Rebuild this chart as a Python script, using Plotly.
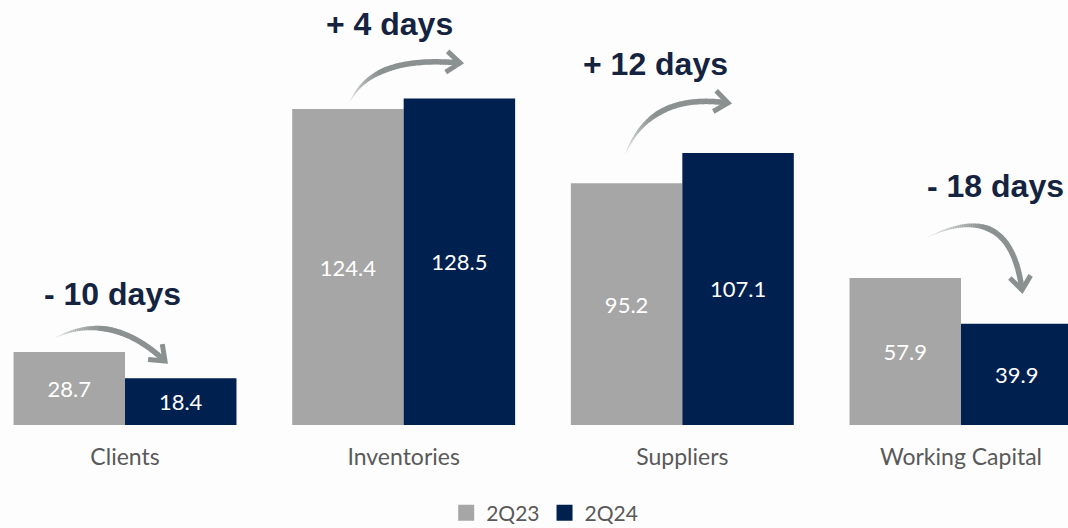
import numpy as np
import plotly.graph_objects as go

# --- data ---
categories = ["Clients", "Inventories", "Suppliers", "Working Capital"]
days_2q23 = [28.7, 124.4, 95.2, 57.9]
days_2q24 = [18.4, 128.5, 107.1, 39.9]
change_labels = ["- 10 days", "+ 4 days", "+ 12 days", "- 18 days"]

W, H = 1068, 528
MB = 103                      # bottom margin (axis labels + legend)
PLOT_H = H - MB

GRAY = "#a6a6a6"
NAVY = "#002050"
ARROW = "#8b9090"
TITLE = "#14233f"
LABEL = "#595959"


def to_paper(px, py):
    return px / W, 1 - py / PLOT_H


fig = go.Figure()
for name, vals, col in (("2Q23", days_2q23, GRAY), ("2Q24", days_2q24, NAVY)):
    fig.add_trace(go.Bar(
        name=name, x=categories, y=vals, marker_color=col, marker_line_width=0,
        texttemplate="%{y:.1f}", textposition="inside", insidetextanchor="middle",
        textangle=0, textfont=dict(color="white", size=22, family="Lato"),
        showlegend=False,
    ))
# legend entries with larger square swatches
for name, col in (("2Q23", GRAY), ("2Q24", NAVY)):
    fig.add_trace(go.Scatter(
        name=name, x=[None], y=[None], mode="markers",
        marker=dict(symbol="square", size=16, color=col), showlegend=True,
    ))


# --- curved brush-like arrows between the two bars of each group ---
def bezier(p0, c, p1, t):
    t = t[:, None]
    return (1 - t) ** 2 * np.array(p0) + 2 * (1 - t) * t * np.array(c) + t ** 2 * np.array(p1)


def add_arrow(p0, c, p1, width=5.5, head=17):
    n = 60
    t = np.linspace(0, 1, n + 1)
    pts = bezier(p0, c, p1, t)
    d = np.gradient(pts, axis=0)
    d /= np.linalg.norm(d, axis=1)[:, None]
    nrm = np.stack([-d[:, 1], d[:, 0]], axis=1)
    w = 0.4 + (width - 0.4) * np.clip(t / 0.45, 0, 1)
    op = 0.15 + 0.85 * np.clip(t / 0.4, 0, 1)
    for i in range(n):
        a, b = pts[i], pts[i + 1] + d[i + 1] * 0.6
        wa, wb = w[i] / 2, w[i + 1] / 2
        quad = [a + nrm[i] * wa, b + nrm[i + 1] * wb, b - nrm[i + 1] * wb, a - nrm[i] * wa]
        path = "M " + " L ".join("%.5f,%.5f" % to_paper(*q) for q in quad) + " Z"
        fig.add_shape(type="path", path=path, xref="paper", yref="paper",
                      fillcolor=ARROW, opacity=float(op[i]), line_width=0, layer="above")
    # chevron head
    tip = np.array(p1, dtype=float)
    back = np.array(c, dtype=float) - tip
    back /= np.linalg.norm(back)
    arms = []
    for ang in (np.radians(38), -np.radians(38)):
        rot = np.array([[np.cos(ang), -np.sin(ang)], [np.sin(ang), np.cos(ang)]])
        arms.append(tip + rot @ back * head)
    path = "M %.5f,%.5f L %.5f,%.5f L %.5f,%.5f" % (
        *to_paper(*arms[0]), *to_paper(*tip), *to_paper(*arms[1]))
    fig.add_shape(type="path", path=path, xref="paper", yref="paper",
                  line=dict(color=ARROW, width=5), layer="above")


add_arrow((55, 338), (110, 310), (165, 361))
add_arrow((350, 102), (372, 55), (460, 63))
add_arrow((625, 155), (650, 92), (728, 103))
add_arrow((928, 237), (1010, 198), (1022, 290))

# --- change annotations ---
label_pos = [(112, 294), (389, 24), (655, 64), (995, 186)]
for txt, (px, py) in zip(change_labels, label_pos):
    xp, yp = to_paper(px, py)
    fig.add_annotation(text="<b>%s</b>" % txt, x=xp, y=yp, xref="paper", yref="paper",
                       showarrow=False, xanchor="center", yanchor="middle",
                       font=dict(family="Liberation Sans", size=32, color=TITLE))

fig.update_layout(
    width=W, height=H,
    margin=dict(l=0, r=0, t=0, b=MB, autoexpand=False),
    paper_bgcolor="#fdfdfd", plot_bgcolor="#fdfdfd",
    barmode="group", bargap=0.2, bargroupgap=0,
    showlegend=True,
    legend=dict(orientation="h", x=0.51, xanchor="center",
                y=1 - 513 / H, yanchor="middle", yref="container",
                font=dict(family="Lato", size=21, color=LABEL),
                itemwidth=30, traceorder="normal", bgcolor="rgba(0,0,0,0)"),
    xaxis=dict(range=[-0.4486, 3.384], showgrid=False, zeroline=False, showline=False,
               automargin=False,
               ticks="outside", ticklen=11, tickcolor="rgba(0,0,0,0)",
               tickfont=dict(family="Lato", size=23, color=LABEL)),
    yaxis=dict(range=[0, PLOT_H / 2.54], visible=False, showgrid=False, zeroline=False,
               automargin=False),
    font=dict(family="Lato"),
)

fig.write_html("out.html")
